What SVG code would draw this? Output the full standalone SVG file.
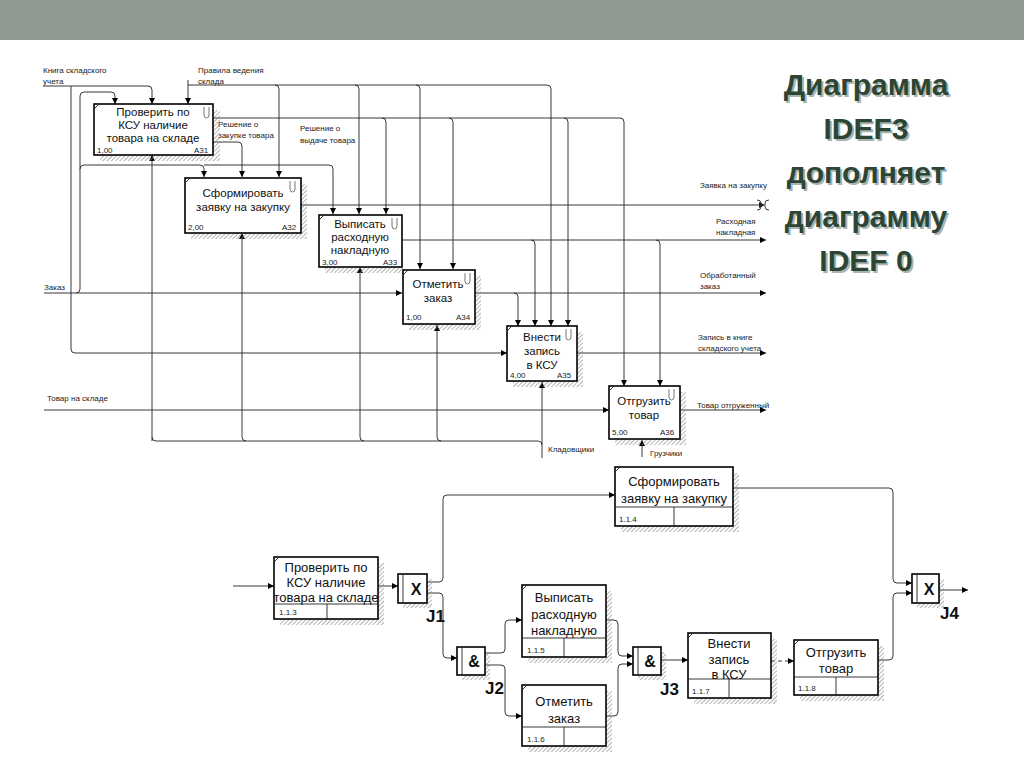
<svg xmlns="http://www.w3.org/2000/svg" width="1024" height="767" viewBox="0 0 1024 767">
<defs>
<marker id="arr" viewBox="0 0 10 10" refX="10" refY="5" markerWidth="7" markerHeight="6" markerUnits="userSpaceOnUse" orient="auto"><path d="M0,0 L10,5 L0,10 z" fill="#000"/></marker>
<pattern id="hatch" width="3" height="3" patternUnits="userSpaceOnUse" patternTransform="rotate(45)"><line x1="0" y1="0" x2="0" y2="3" stroke="#8a8a8a" stroke-width="1.3"/></pattern>
<style>
.bx{fill:#fff;stroke:#000;stroke-width:1.6}
.sh{fill:url(#hatch)}
.t{font-family:"Liberation Sans",Arial,sans-serif;fill:#111;text-anchor:middle}
.t0{font-size:11.5px}
.t3{font-size:13px}
.sm{font-family:"Liberation Sans",Arial,sans-serif;font-size:8px;fill:#222}
.lb{font-family:"Liberation Sans",Arial,sans-serif;font-size:8px;fill:#222}
.ln{fill:none;stroke:#222;stroke-width:0.9}
.la{fill:none;stroke:#222;stroke-width:0.9;marker-end:url(#arr)}
.clip{fill:none;stroke:#777;stroke-width:1}
.jl{font-family:"Liberation Sans",Arial,sans-serif;font-size:17px;font-weight:bold;fill:#111}
.jx{font-family:"Liberation Sans",Arial,sans-serif;font-size:16px;font-weight:bold;fill:#111;text-anchor:middle}
.ttl{font-family:"Liberation Sans",Arial,sans-serif;font-size:30px;font-weight:bold;text-anchor:middle}
</style>
</defs>
<rect x="0" y="0" width="1024" height="767" fill="#fff"/>
<rect x="0" y="0" width="1024" height="40" fill="#8d9991"/>

<g id="title">
<g class="ttl" fill="#aab3ad" transform="translate(2,2)">
<text x="866" y="95">Диаграмма</text><text x="866" y="139">IDEF3</text><text x="866" y="183">дополняет</text><text x="866" y="227">диаграмму</text><text x="866" y="271">IDEF 0</text>
</g>
<g class="ttl" fill="#2c4636">
<text x="866" y="95">Диаграмма</text><text x="866" y="139">IDEF3</text><text x="866" y="183">дополняет</text><text x="866" y="227">диаграмму</text><text x="866" y="271">IDEF 0</text>
</g>
</g>

<!-- IDEF0 connectors -->
<g id="idef0-connectors">
<path class="la" d="M43 86 H148 Q152 86 152 90 V104"/>
<path class="la" d="M71 86 V349 Q71 353 75 353 H507"/>
<path class="la" d="M188 80 V104"/>
<path class="la" d="M188 85 H547 Q551 85 551 89 V326"/>
<path class="la" d="M275 85 Q279 85 279 89 V177"/>
<path class="la" d="M355 85 Q359 85 359 89 V214"/>
<path class="la" d="M416 85 Q420 85 420 89 V269"/>
<path class="la" d="M44 293 H402"/>
<path class="la" d="M76 293 Q80 293 80 289 V96 Q80 92 84 92 H111 Q115 92 115 96 V104"/>
<path class="la" d="M80 169 Q80 165 84 165 H200 Q204 165 204 169 V177"/>
<path class="la" d="M204 165 H329 Q333 165 333 169 V214"/>
<path class="la" d="M44 410 H609"/>
<path class="la" d="M213 118 H620 Q624 118 624 122 V386"/>
<path class="la" d="M382 118 Q386 118 386 122 V214"/>
<path class="la" d="M449 118 Q453 118 453 122 V269"/>
<path class="la" d="M564 118 Q568 118 568 122 V326"/>
<path class="la" d="M213 142 H238 Q242 142 242 146 V177"/>
<path class="ln" d="M301 205 H760"/>
<path class="ln" d="M757 200 Q761 200 761 203 V207 Q761 210 757 210 M769 200 Q765 200 765 203 V207 Q765 210 769 210"/>
<path d="M759 202 L765 205 L759 208 z" fill="#222"/>
<path class="la" d="M402 240 H766"/>
<path class="la" d="M531 240 Q535 240 535 244 V326"/>
<path class="la" d="M656 240 Q660 240 660 244 V386"/>
<path class="la" d="M475 293 H766"/>
<path class="la" d="M514 293 Q518 293 518 297 V326"/>
<path class="la" d="M577 353 H766"/>
<path class="la" d="M680 410 H766"/>
<path class="ln" d="M152 437 Q152 441 156 441 H538 Q542 441 542 445 V458"/>
<path class="la" d="M152 441 V155"/>
<path class="la" d="M242 437 V233"/>
<path class="ln" d="M242 437 Q242 441 246 441"/>
<path class="la" d="M360 437 V267"/>
<path class="ln" d="M360 437 Q360 441 364 441"/>
<path class="la" d="M437 437 V325"/>
<path class="ln" d="M437 437 Q437 441 441 441"/>
<path class="la" d="M542 445 V382"/>
<path class="la" d="M642 457 V440"/>
</g>

<g id="idef0-labels">
<text class="lb" x="43" y="73">Книга складского</text>
<text class="lb" x="43" y="84">учета</text>
<text class="lb" x="198" y="73">Правила ведения</text>
<text class="lb" x="198" y="84">склада</text>
<text class="lb" x="218" y="127">Решение о</text>
<text class="lb" x="218" y="138">закупке товара</text>
<text class="lb" x="300" y="131">Решение о</text>
<text class="lb" x="300" y="143">выдаче товара</text>
<text class="lb" x="44" y="290">Заказ</text>
<text class="lb" x="47" y="401">Товар на складе</text>
<text class="lb" x="700" y="188">Заявка на закупку</text>
<text class="lb" x="716" y="224">Расходная</text>
<text class="lb" x="716" y="235">накладная</text>
<text class="lb" x="700" y="278">Обработанный</text>
<text class="lb" x="700" y="289">заказ</text>
<text class="lb" x="698" y="340">Запись в книге</text>
<text class="lb" x="698" y="351">складского учета</text>
<text class="lb" x="697" y="408">Товар отгруженный</text>
<text class="lb" x="548" y="452">Кладовщики</text>
<text class="lb" x="650" y="456">Грузчики</text>
</g>

<g id="A31">
<rect class="sh" x="100" y="110" width="120" height="51"/>
<rect class="bx" x="94" y="104" width="119" height="51"/>
<path class="ln" d="M94 109 L99 104"/>
<path class="clip" d="M204 107 V115 Q204 118 206.5 118 Q209 118 209 115 V107"/>
<text class="t t0" x="153" y="116">Проверить по</text>
<text class="t t0" x="153" y="129">КСУ наличие</text>
<text class="t t0" x="153" y="142">товара на складе</text>
<text class="sm" x="97" y="153">1,00</text>
<text class="sm" x="194" y="153">A31</text>
</g>
<g id="A32">
<rect class="sh" x="191" y="184" width="116" height="55"/>
<rect class="bx" x="185" y="178" width="116" height="55"/>
<path class="ln" d="M185 183 L190 178"/>
<path class="clip" d="M290 181 V189 Q290 192 292.5 192 Q295 192 295 189 V181"/>
<text class="t t0" x="243" y="197">Сформировать</text>
<text class="t t0" x="243" y="211">заявку на закупку</text>
<text class="sm" x="188" y="230">2,00</text>
<text class="sm" x="282" y="230">A32</text>
</g>
<g id="A33">
<rect class="sh" x="325" y="221" width="78" height="52"/>
<rect class="bx" x="319" y="215" width="83" height="52"/>
<path class="ln" d="M319 220 L324 215"/>
<path class="clip" d="M392 218 V226 Q392 229 394.5 229 Q397 229 397 226 V218"/>
<text class="t t0" x="360" y="228">Выписать</text>
<text class="t t0" x="360" y="241">расходную</text>
<text class="t t0" x="360" y="254">накладную</text>
<text class="sm" x="322" y="265">3,00</text>
<text class="sm" x="383" y="265">A33</text>
</g>
<g id="A34">
<rect class="sh" x="409" y="276" width="72" height="54"/>
<rect class="bx" x="403" y="270" width="72" height="54"/>
<path class="ln" d="M403 275 L408 270"/>
<path class="clip" d="M465 273 V281 Q465 284 467.5 284 Q470 284 470 281 V273"/>
<text class="t t0" x="438" y="288">Отметить</text>
<text class="t t0" x="438" y="302">заказ</text>
<text class="sm" x="406" y="320">1,00</text>
<text class="sm" x="456" y="320">A34</text>
</g>
<g id="A35">
<rect class="sh" x="513" y="332" width="70" height="55"/>
<rect class="bx" x="507" y="326" width="70" height="55"/>
<path class="ln" d="M507 331 L512 326"/>
<path class="clip" d="M566 329 V337 Q566 340 568.5 340 Q571 340 571 337 V329"/>
<text class="t t0" x="542" y="341">Внести</text>
<text class="t t0" x="542" y="355">запись</text>
<text class="t t0" x="542" y="369">в КСУ</text>
<text class="sm" x="510" y="378">4,00</text>
<text class="sm" x="557" y="378">A35</text>
</g>
<g id="A36">
<rect class="sh" x="615" y="392" width="71" height="53"/>
<rect class="bx" x="609" y="386" width="71" height="53"/>
<path class="ln" d="M609 391 L614 386"/>
<path class="clip" d="M669 389 V397 Q669 400 671.5 400 Q674 400 674 397 V389"/>
<text class="t t0" x="644" y="405">Отгрузить</text>
<text class="t t0" x="644" y="419">товар</text>
<text class="sm" x="612" y="435">5,00</text>
<text class="sm" x="660" y="435">A36</text>
</g>

<g id="idef3-connectors">
<path class="la" d="M233 586 H274"/>
<path class="la" d="M378 586 H398"/>
<path class="la" d="M427 582 H439 Q443 582 443 578 V499 Q443 495 447 495 H615"/>
<path class="la" d="M427 593 H439 Q443 593 443 597 V654 Q443 658 447 658 H457"/>
<path class="la" d="M485 653 H501 Q505 653 505 649 V624 Q505 620 509 620 H522"/>
<path class="la" d="M485 665 H501 Q505 665 505 669 V712 Q505 716 509 716 H522"/>
<path class="la" d="M606 620 H614 Q618 620 618 624 V652 Q618 656 622 656 H633"/>
<path class="la" d="M606 716 H614 Q618 716 618 712 V668 Q618 664 622 664 H633"/>
<path class="la" d="M661 660 H688"/>
<path class="la" d="M771 661 H794" stroke-dasharray="4,3"/>
<path class="la" d="M878 660 H889 Q893 660 893 656 V597 Q893 593 897 593 H912"/>
<path class="la" d="M733 488 H889 Q893 488 893 492 V579 Q893 583 897 583 H912"/>
<path class="la" d="M939 590 H968"/>
</g>

<g id="U113">
<rect class="sh" x="280" y="563" width="104" height="62"/>
<rect class="bx" x="274" y="557" width="104" height="62"/>
<path class="ln" d="M274 562 L279 557"/>
<line class="ln" x1="274" y1="604" x2="378" y2="604" stroke-width="1.4"/>
<line class="ln" x1="327" y1="604" x2="327" y2="619" stroke-width="1.4"/>
<text class="t t3" x="326" y="572">Проверить по</text>
<text class="t t3" x="326" y="587">КСУ наличие</text>
<text class="t t3" x="326" y="602">товара на складе</text>
<text class="sm" x="279" y="615">1.1.3</text>
</g>
<g id="U114">
<rect class="sh" x="621" y="473" width="118" height="59"/>
<rect class="bx" x="615" y="467" width="118" height="59"/>
<path class="ln" d="M615 472 L620 467"/>
<line class="ln" x1="615" y1="507" x2="733" y2="507" stroke-width="1.4"/>
<line class="ln" x1="674" y1="507" x2="674" y2="526" stroke-width="1.4"/>
<text class="t t3" x="674" y="486">Сформировать</text>
<text class="t t3" x="674" y="503">заявку на закупку</text>
<text class="sm" x="619" y="522">1.1.4</text>
</g>
<g id="U115">
<rect class="sh" x="528" y="591" width="84" height="72"/>
<rect class="bx" x="522" y="585" width="84" height="72"/>
<path class="ln" d="M522 590 L527 585"/>
<line class="ln" x1="522" y1="638" x2="606" y2="638" stroke-width="1.4"/>
<line class="ln" x1="564" y1="638" x2="564" y2="657" stroke-width="1.4"/>
<text class="t t3" x="564" y="602">Выписать</text>
<text class="t t3" x="564" y="619">расходную</text>
<text class="t t3" x="564" y="635">накладную</text>
<text class="sm" x="527" y="653">1.1.5</text>
</g>
<g id="U116">
<rect class="sh" x="528" y="691" width="84" height="61"/>
<rect class="bx" x="522" y="685" width="84" height="61"/>
<path class="ln" d="M522 690 L527 685"/>
<line class="ln" x1="522" y1="727" x2="606" y2="727" stroke-width="1.4"/>
<line class="ln" x1="564" y1="727" x2="564" y2="746" stroke-width="1.4"/>
<text class="t t3" x="564" y="706">Отметить</text>
<text class="t t3" x="564" y="723">заказ</text>
<text class="sm" x="527" y="742">1.1.6</text>
</g>
<g id="U117">
<rect class="sh" x="694" y="639" width="83" height="65"/>
<rect class="bx" x="688" y="633" width="83" height="65"/>
<path class="ln" d="M688 638 L693 633"/>
<line class="ln" x1="688" y1="679" x2="771" y2="679" stroke-width="1.4"/>
<line class="ln" x1="729" y1="679" x2="729" y2="698" stroke-width="1.4"/>
<text class="t t3" x="729" y="648">Внести</text>
<text class="t t3" x="729" y="664">запись</text>
<text class="t t3" x="729" y="679">в КСУ</text>
<text class="sm" x="692" y="694">1.1.7</text>
</g>
<g id="U118">
<rect class="sh" x="800" y="646" width="84" height="55"/>
<rect class="bx" x="794" y="640" width="84" height="55"/>
<path class="ln" d="M794 645 L799 640"/>
<line class="ln" x1="794" y1="677" x2="878" y2="677" stroke-width="1.4"/>
<line class="ln" x1="836" y1="677" x2="836" y2="695" stroke-width="1.4"/>
<text class="t t3" x="836" y="657">Отгрузить</text>
<text class="t t3" x="836" y="673">товар</text>
<text class="sm" x="798" y="691">1.1.8</text>
</g>

<g id="J1">
<rect class="sh" x="403" y="579" width="29" height="29"/>
<rect class="bx" x="398" y="574" width="29" height="29"/>
<line class="ln" x1="403" y1="574" x2="403" y2="603" stroke-width="1.4"/>
<text class="jx" x="416" y="595">X</text>
<text class="jl" x="426" y="622">J1</text>
</g>
<g id="J2">
<rect class="sh" x="462" y="652" width="28" height="28"/>
<rect class="bx" x="457" y="647" width="28" height="28"/>
<line class="ln" x1="462" y1="647" x2="462" y2="675" stroke-width="1.4"/>
<text class="jx" x="474" y="667">&amp;</text>
<text class="jl" x="485" y="694">J2</text>
</g>
<g id="J3">
<rect class="sh" x="638" y="652" width="28" height="28"/>
<rect class="bx" x="633" y="647" width="28" height="28"/>
<line class="ln" x1="638" y1="647" x2="638" y2="675" stroke-width="1.4"/>
<text class="jx" x="650" y="667">&amp;</text>
<text class="jl" x="660" y="695">J3</text>
</g>
<g id="J4">
<rect class="sh" x="917" y="579" width="27" height="29"/>
<rect class="bx" x="912" y="574" width="27" height="29"/>
<line class="ln" x1="917" y1="574" x2="917" y2="603" stroke-width="1.4"/>
<text class="jx" x="929" y="595">X</text>
<text class="jl" x="940" y="619">J4</text>
</g>
</svg>
